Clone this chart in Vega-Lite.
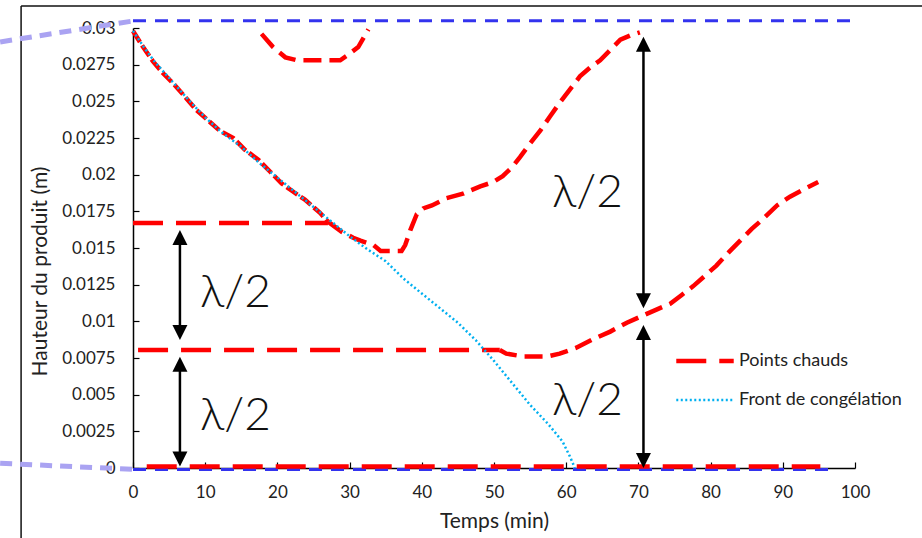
{
  "$schema": "https://vega.github.io/schema/vega-lite/v6.json",
  "width": 722,
  "height": 440,
  "autosize": {"type": "none"},
  "padding": {"left": 133, "top": 28, "right": 67, "bottom": 70},
  "background": "white",
  "config": {"font": "Lato", "view": {"stroke": null}},
  "datasets": {
    "frame": [
      {"x": -15.5, "x2": 109.3, "y": 0.0315, "y2": 0.0315},
      {"x": -15.5, "x2": -15.5, "y": 0.0315, "y2": -0.0048}
    ],
    "connectors": [
      {"x": -18.4, "x2": 0, "y": 0.02905, "y2": 0.03048},
      {"x": -18.4, "x2": 0, "y": 0.00032, "y2": -0.00009}
    ],
    "limits": [
      {"seg": "top", "x": 0, "y": 0.0305},
      {"seg": "top", "x": 100, "y": 0.0305},
      {"seg": "bottom", "x": 0, "y": -0.0001},
      {"seg": "bottom", "x": 97.5, "y": -0.0001}
    ],
    "series": [
      {"series": "Points chauds", "seg": "R1a", "i": 1, "x": 0, "y": 0.0298},
      {"series": "Points chauds", "seg": "R1a", "i": 2, "x": 1.4, "y": 0.0287},
      {"series": "Points chauds", "seg": "R1a", "i": 3, "x": 2.8, "y": 0.0277},
      {"series": "Points chauds", "seg": "R1a", "i": 4, "x": 4.2, "y": 0.0269},
      {"series": "Points chauds", "seg": "R1a", "i": 5, "x": 5.8, "y": 0.0261},
      {"series": "Points chauds", "seg": "R1a", "i": 6, "x": 7.4, "y": 0.0252},
      {"series": "Points chauds", "seg": "R1a", "i": 7, "x": 8.8, "y": 0.0244},
      {"series": "Points chauds", "seg": "R1a", "i": 8, "x": 10.4, "y": 0.0237},
      {"series": "Points chauds", "seg": "R1a", "i": 9, "x": 12.0, "y": 0.0230},
      {"series": "Points chauds", "seg": "R1a", "i": 10, "x": 13.9, "y": 0.0225},
      {"series": "Points chauds", "seg": "R1a", "i": 11, "x": 15.5, "y": 0.0217},
      {"series": "Points chauds", "seg": "R1a", "i": 12, "x": 17.4, "y": 0.0210},
      {"series": "Points chauds", "seg": "R1a", "i": 13, "x": 19.0, "y": 0.0202},
      {"series": "Points chauds", "seg": "R1a", "i": 14, "x": 20.6, "y": 0.0194},
      {"series": "Points chauds", "seg": "R1a", "i": 15, "x": 22.3, "y": 0.0188},
      {"series": "Points chauds", "seg": "R1a", "i": 16, "x": 23.8, "y": 0.0183},
      {"series": "Points chauds", "seg": "R1a", "i": 17, "x": 25.9, "y": 0.0174},
      {"series": "Points chauds", "seg": "R1a", "i": 18, "x": 27.0, "y": 0.0168},
      {"series": "Points chauds", "seg": "R1b", "i": 1, "x": 27.0, "y": 0.0168},
      {"series": "Points chauds", "seg": "R1b", "i": 2, "x": 28.9, "y": 0.0161},
      {"series": "Points chauds", "seg": "R1b", "i": 3, "x": 30.5, "y": 0.0157},
      {"series": "Points chauds", "seg": "R1b", "i": 4, "x": 31.5, "y": 0.0155},
      {"series": "Points chauds", "seg": "R1b", "i": 5, "x": 33.3, "y": 0.0152},
      {"series": "Points chauds", "seg": "R1b", "i": 6, "x": 34.3, "y": 0.0148},
      {"series": "Points chauds", "seg": "R1b", "i": 7, "x": 37.2, "y": 0.0148},
      {"series": "Points chauds", "seg": "R1b", "i": 8, "x": 37.7, "y": 0.0152},
      {"series": "Points chauds", "seg": "R1b", "i": 9, "x": 38.4, "y": 0.0162},
      {"series": "Points chauds", "seg": "R1b", "i": 10, "x": 39.3, "y": 0.0173},
      {"series": "Points chauds", "seg": "R1b", "i": 11, "x": 40.2, "y": 0.0177},
      {"series": "Points chauds", "seg": "R1b", "i": 12, "x": 41.4, "y": 0.0179},
      {"series": "Points chauds", "seg": "R1b", "i": 13, "x": 43.4, "y": 0.0184},
      {"series": "Points chauds", "seg": "R1b", "i": 14, "x": 45.7, "y": 0.0187},
      {"series": "Points chauds", "seg": "R1b", "i": 15, "x": 48.1, "y": 0.0192},
      {"series": "Points chauds", "seg": "R1b", "i": 16, "x": 49.9, "y": 0.0195},
      {"series": "Points chauds", "seg": "R1b", "i": 17, "x": 51.2, "y": 0.0199},
      {"series": "Points chauds", "seg": "R1b", "i": 18, "x": 52.5, "y": 0.0205},
      {"series": "Points chauds", "seg": "R1b", "i": 19, "x": 53.6, "y": 0.0212},
      {"series": "Points chauds", "seg": "R1b", "i": 20, "x": 54.8, "y": 0.0220},
      {"series": "Points chauds", "seg": "R1b", "i": 21, "x": 56.4, "y": 0.0230},
      {"series": "Points chauds", "seg": "R1b", "i": 22, "x": 57.8, "y": 0.0240},
      {"series": "Points chauds", "seg": "R1b", "i": 23, "x": 59.1, "y": 0.0249},
      {"series": "Points chauds", "seg": "R1b", "i": 24, "x": 60.5, "y": 0.0258},
      {"series": "Points chauds", "seg": "R1b", "i": 25, "x": 61.9, "y": 0.0267},
      {"series": "Points chauds", "seg": "R1b", "i": 26, "x": 63.3, "y": 0.0273},
      {"series": "Points chauds", "seg": "R1b", "i": 27, "x": 64.7, "y": 0.0278},
      {"series": "Points chauds", "seg": "R1b", "i": 28, "x": 66.1, "y": 0.0285},
      {"series": "Points chauds", "seg": "R1b", "i": 29, "x": 67.5, "y": 0.0292},
      {"series": "Points chauds", "seg": "R1b", "i": 30, "x": 68.9, "y": 0.0295},
      {"series": "Points chauds", "seg": "R1b", "i": 31, "x": 70.2, "y": 0.0297},
      {"series": "Points chauds", "seg": "R2", "i": 1, "x": 0, "y": 0.0167},
      {"series": "Points chauds", "seg": "R2", "i": 2, "x": 27.0, "y": 0.0167},
      {"series": "Points chauds", "seg": "R3a", "i": 1, "x": 0.7, "y": 0.00805},
      {"series": "Points chauds", "seg": "R3a", "i": 2, "x": 50.8, "y": 0.00805},
      {"series": "Points chauds", "seg": "R3b", "i": 1, "x": 50.8, "y": 0.00805},
      {"series": "Points chauds", "seg": "R3b", "i": 2, "x": 51.7, "y": 0.0078},
      {"series": "Points chauds", "seg": "R3b", "i": 3, "x": 54.1, "y": 0.0076},
      {"series": "Points chauds", "seg": "R3b", "i": 4, "x": 57.3, "y": 0.0076},
      {"series": "Points chauds", "seg": "R3b", "i": 5, "x": 59.1, "y": 0.0078},
      {"series": "Points chauds", "seg": "R3b", "i": 6, "x": 61.4, "y": 0.0082},
      {"series": "Points chauds", "seg": "R3b", "i": 7, "x": 63.8, "y": 0.0088},
      {"series": "Points chauds", "seg": "R3b", "i": 8, "x": 66.1, "y": 0.0093},
      {"series": "Points chauds", "seg": "R3b", "i": 9, "x": 68.4, "y": 0.0099},
      {"series": "Points chauds", "seg": "R3b", "i": 10, "x": 70.2, "y": 0.0103},
      {"series": "Points chauds", "seg": "R3b", "i": 11, "x": 72.5, "y": 0.0108},
      {"series": "Points chauds", "seg": "R3b", "i": 12, "x": 74.4, "y": 0.0112},
      {"series": "Points chauds", "seg": "R3b", "i": 13, "x": 76.0, "y": 0.0118},
      {"series": "Points chauds", "seg": "R3b", "i": 14, "x": 77.6, "y": 0.0124},
      {"series": "Points chauds", "seg": "R3b", "i": 15, "x": 79.2, "y": 0.0131},
      {"series": "Points chauds", "seg": "R3b", "i": 16, "x": 80.8, "y": 0.0138},
      {"series": "Points chauds", "seg": "R3b", "i": 17, "x": 82.5, "y": 0.0147},
      {"series": "Points chauds", "seg": "R3b", "i": 18, "x": 84.1, "y": 0.0155},
      {"series": "Points chauds", "seg": "R3b", "i": 19, "x": 85.7, "y": 0.0163},
      {"series": "Points chauds", "seg": "R3b", "i": 20, "x": 87.3, "y": 0.0170},
      {"series": "Points chauds", "seg": "R3b", "i": 21, "x": 89.2, "y": 0.0179},
      {"series": "Points chauds", "seg": "R3b", "i": 22, "x": 91.0, "y": 0.0185},
      {"series": "Points chauds", "seg": "R3b", "i": 23, "x": 92.9, "y": 0.0190},
      {"series": "Points chauds", "seg": "R3b", "i": 24, "x": 94.9, "y": 0.0195},
      {"series": "Points chauds", "seg": "R4", "i": 1, "x": 1.9, "y": 0.0001},
      {"series": "Points chauds", "seg": "R4", "i": 2, "x": 95.2, "y": 0.0001},
      {"series": "Points chauds", "seg": "R5", "i": 1, "x": 17.8, "y": 0.0296},
      {"series": "Points chauds", "seg": "R5", "i": 2, "x": 19.4, "y": 0.0287},
      {"series": "Points chauds", "seg": "R5", "i": 3, "x": 21.1, "y": 0.0280},
      {"series": "Points chauds", "seg": "R5", "i": 4, "x": 22.7, "y": 0.0278},
      {"series": "Points chauds", "seg": "R5", "i": 5, "x": 28.7, "y": 0.0278},
      {"series": "Points chauds", "seg": "R5", "i": 6, "x": 29.6, "y": 0.0281},
      {"series": "Points chauds", "seg": "R5", "i": 7, "x": 31.2, "y": 0.0287},
      {"series": "Points chauds", "seg": "R5", "i": 8, "x": 32.6, "y": 0.0299},
      {"series": "Front de congélation", "seg": "F", "i": 1, "x": 0, "y": 0.0298},
      {"series": "Front de congélation", "seg": "F", "i": 2, "x": 1.5, "y": 0.0287},
      {"series": "Front de congélation", "seg": "F", "i": 3, "x": 3, "y": 0.0277},
      {"series": "Front de congélation", "seg": "F", "i": 4, "x": 5, "y": 0.0266},
      {"series": "Front de congélation", "seg": "F", "i": 5, "x": 7.5, "y": 0.0252},
      {"series": "Front de congélation", "seg": "F", "i": 6, "x": 10, "y": 0.0239},
      {"series": "Front de congélation", "seg": "F", "i": 7, "x": 12.5, "y": 0.0228},
      {"series": "Front de congélation", "seg": "F", "i": 8, "x": 15, "y": 0.0219},
      {"series": "Front de congélation", "seg": "F", "i": 9, "x": 17.5, "y": 0.0208},
      {"series": "Front de congélation", "seg": "F", "i": 10, "x": 20, "y": 0.0198},
      {"series": "Front de congélation", "seg": "F", "i": 11, "x": 22.5, "y": 0.0188},
      {"series": "Front de congélation", "seg": "F", "i": 12, "x": 25, "y": 0.0178},
      {"series": "Front de congélation", "seg": "F", "i": 13, "x": 27.5, "y": 0.0168},
      {"series": "Front de congélation", "seg": "F", "i": 14, "x": 30, "y": 0.0158},
      {"series": "Front de congélation", "seg": "F", "i": 15, "x": 32.5, "y": 0.0149},
      {"series": "Front de congélation", "seg": "F", "i": 16, "x": 35, "y": 0.0141},
      {"series": "Front de congélation", "seg": "F", "i": 17, "x": 37.5, "y": 0.0129},
      {"series": "Front de congélation", "seg": "F", "i": 18, "x": 40, "y": 0.0119},
      {"series": "Front de congélation", "seg": "F", "i": 19, "x": 42.5, "y": 0.0109},
      {"series": "Front de congélation", "seg": "F", "i": 20, "x": 45, "y": 0.0099},
      {"series": "Front de congélation", "seg": "F", "i": 21, "x": 47.5, "y": 0.0087},
      {"series": "Front de congélation", "seg": "F", "i": 22, "x": 50, "y": 0.0073},
      {"series": "Front de congélation", "seg": "F", "i": 23, "x": 52.5, "y": 0.0058},
      {"series": "Front de congélation", "seg": "F", "i": 24, "x": 55, "y": 0.0043},
      {"series": "Front de congélation", "seg": "F", "i": 25, "x": 57.5, "y": 0.0030},
      {"series": "Front de congélation", "seg": "F", "i": 26, "x": 59.5, "y": 0.0018},
      {"series": "Front de congélation", "seg": "F", "i": 27, "x": 60.5, "y": 0.0008},
      {"series": "Front de congélation", "seg": "F", "i": 28, "x": 61.2, "y": 0.0}
    ],
    "shafts": [
      {"x": 6.5, "y": 0.0158, "y2": 0.0092},
      {"x": 6.5, "y": 0.0072, "y2": 0.0005},
      {"x": 70.7, "y": 0.0290, "y2": 0.0113},
      {"x": 70.7, "y": 0.0093, "y2": 0.0004}
    ],
    "heads": [
      {"x": 6.5, "y": 0.01572, "dir": "up"},
      {"x": 6.5, "y": 0.00924, "dir": "down"},
      {"x": 6.5, "y": 0.00708, "dir": "up"},
      {"x": 6.5, "y": 0.00061, "dir": "down"},
      {"x": 70.7, "y": 0.02889, "dir": "up"},
      {"x": 70.7, "y": 0.0114, "dir": "down"},
      {"x": 70.7, "y": 0.00924, "dir": "up"},
      {"x": 70.7, "y": 0.00051, "dir": "down"}
    ],
    "labels": [
      {"x": 14.2, "y": 0.0110, "label": "λ/2"},
      {"x": 14.2, "y": 0.00259, "label": "λ/2"},
      {"x": 62.95, "y": 0.01782, "label": "λ/2"},
      {"x": 62.95, "y": 0.00361, "label": "λ/2"}
    ]
  },
  "encoding": {
    "x": {"field": "x", "type": "quantitative", "scale": {"domain": [0, 100], "nice": false}, "axis": {
      "values": [0, 10, 20, 30, 40, 50, 60, 70, 80, 90, 100],
      "title": "Temps (min)", "grid": false, "domainColor": "#000000", "domainWidth": 1.5,
      "tickColor": "#000000", "tickSize": -6, "tickWidth": 1.2, "labelPadding": 22, "labelOverlap": false, "labelFlush": false,
      "labelFontSize": 17, "labelColor": "#222222", "titleFontSize": 21, "titleFontWeight": "normal",
      "titleColor": "#222222", "titlePadding": 10
    }},
    "y": {"field": "y", "type": "quantitative", "scale": {"domain": [0, 0.03], "nice": false, "zero": false}, "axis": {
      "values": [0, 0.0025, 0.005, 0.0075, 0.01, 0.0125, 0.015, 0.0175, 0.02, 0.0225, 0.025, 0.0275, 0.03],
      "labelExpr": "'' + datum.value", "labelOverlap": false, "labelFlush": false,
      "title": "Hauteur du produit (m)", "grid": false, "domainColor": "#000000", "domainWidth": 1.5,
      "tickColor": "#000000", "tickSize": -6, "tickWidth": 1.2, "labelPadding": 24,
      "labelFontSize": 17, "labelColor": "#222222", "titleFontSize": 21, "titleFontWeight": "normal",
      "titleColor": "#222222", "titleX": -93, "titleY": 243, "titleBaseline": "middle"
    }}
  },
  "layer": [
    {
      "data": {"name": "frame"},
      "mark": {"type": "rule", "color": "#111111", "strokeWidth": 1.5},
      "encoding": {"x2": {"field": "x2"}, "y2": {"field": "y2"}}
    },
    {
      "data": {"name": "connectors"},
      "mark": {"type": "rule", "color": "#aaa3f2", "strokeWidth": 5, "strokeDash": [12, 8]},
      "encoding": {"x2": {"field": "x2"}, "y2": {"field": "y2"}}
    },
    {
      "data": {"name": "limits"},
      "mark": {"type": "line", "color": "#3333ee", "strokeWidth": 3, "strokeDash": [13, 9]},
      "encoding": {"detail": {"field": "seg"}}
    },
    {
      "data": {"name": "series"},
      "transform": [{"filter": {"field": "seg", "oneOf": ["R1a"]}}],
      "mark": {"type": "line", "color": "#ff0000", "strokeWidth": 4.5, "strokeDash": [13, 4]},
      "encoding": {"detail": {"field": "seg"}, "order": {"field": "i", "type": "quantitative"}}
    },
    {
      "data": {"name": "series"},
      "transform": [{"filter": {"field": "seg", "oneOf": ["R1b", "R3b", "R5"]}}],
      "mark": {"type": "line", "color": "#ff0000", "strokeWidth": 4.5, "strokeDash": [18, 8]},
      "encoding": {"detail": {"field": "seg"}, "order": {"field": "i", "type": "quantitative"}}
    },
    {
      "data": {"name": "series"},
      "transform": [{"filter": {"field": "seg", "oneOf": ["R2", "R3a", "R4", "F"]}}],
      "mark": {"type": "line"},
      "encoding": {
        "detail": {"field": "seg"},
        "order": {"field": "i", "type": "quantitative"},
        "color": {"field": "series", "type": "nominal", "sort": ["Points chauds", "Front de congélation"],
          "scale": {"domain": ["Points chauds", "Front de congélation"], "range": ["#ff0000", "#00b0f0"]},
          "legend": {"title": null, "orient": "none", "legendX": 541, "legendY": 302, "symbolType": "stroke",
            "symbolSize": 3300, "labelFontSize": 18, "labelColor": "#222222", "labelOffset": 3, "labelLimit": 400, "rowPadding": -20}},
        "strokeDash": {"field": "series", "type": "nominal", "sort": ["Points chauds", "Front de congélation"],
          "scale": {"domain": ["Points chauds", "Front de congélation"], "range": [[30, 13], [2, 2.5]]},
          "legend": {"title": null, "orient": "none", "legendX": 541, "legendY": 302, "symbolType": "stroke",
            "symbolSize": 3300, "labelFontSize": 18, "labelColor": "#222222", "labelOffset": 3, "labelLimit": 400, "rowPadding": -20}},
        "strokeWidth": {"field": "series", "type": "ordinal", "sort": ["Points chauds", "Front de congélation"],
          "scale": {"domain": ["Points chauds", "Front de congélation"], "range": [4.5, 2.5]},
          "legend": {"title": null, "orient": "none", "legendX": 541, "legendY": 302, "symbolType": "stroke",
            "symbolSize": 3300, "labelFontSize": 18, "labelColor": "#222222", "labelOffset": 3, "labelLimit": 400, "rowPadding": -20}}
      }
    },
    {
      "data": {"name": "shafts"},
      "mark": {"type": "rule", "color": "#000000", "strokeWidth": 2.5},
      "encoding": {"y2": {"field": "y2"}}
    },
    {
      "data": {"name": "heads"},
      "mark": {"type": "point", "filled": true, "color": "#000000", "opacity": 1, "size": 225},
      "encoding": {
        "shape": {"field": "dir", "type": "nominal", "legend": null,
          "scale": {"domain": ["up", "down"], "range": ["M0,-1L1,1L-1,1Z", "M-1,-1L1,-1L0,1Z"]}}
      }
    },
    {
      "data": {"name": "labels"},
      "mark": {"type": "text", "fontSize": 46, "fontWeight": 300, "color": "#111111", "align": "center", "baseline": "alphabetic"},
      "encoding": {"text": {"field": "label"}}
    }
  ]
}
